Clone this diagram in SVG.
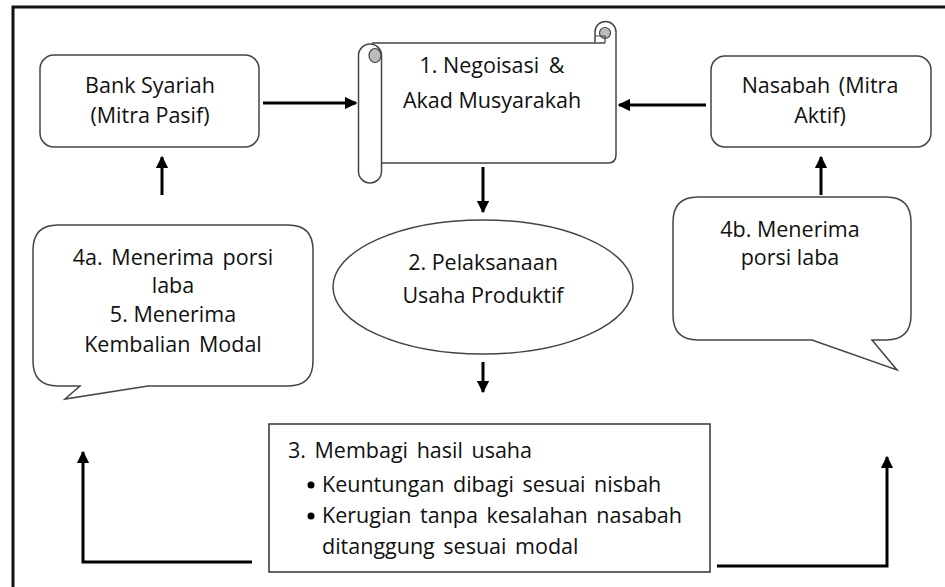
<svg xmlns="http://www.w3.org/2000/svg" width="945" height="587" viewBox="0 0 945 587">
<style>
  .t{font-family:"Open Sans",Lato,"DejaVu Sans",sans-serif;font-size:21.5px;fill:#111;}
  .c{text-anchor:middle;}
  .w{word-spacing:3px;}
  .shape{fill:#fff;stroke:#444;stroke-width:1.5;}
  .conn{fill:none;stroke:#000;stroke-width:3;}
</style>
<defs>
  <marker id="ah" viewBox="0 0 10 10" refX="9" refY="5" markerWidth="4.2" markerHeight="4.2" orient="auto" markerUnits="strokeWidth">
    <path d="M0,0 L10,5 L0,10 Z" fill="#000"/>
  </marker>
</defs>
<rect x="0" y="0" width="945" height="587" fill="#fff"/>
<rect x="13" y="7" width="950" height="600" fill="none" stroke="#111" stroke-width="3"/>

<g id="bank">
  <rect class="shape" x="40" y="55" width="219" height="92" rx="14"/>
  <text class="t c" x="150" y="93">Bank Syariah</text>
  <text class="t c" x="150" y="123">(Mitra Pasif)</text>
</g>

<g id="nasabah">
  <rect class="shape" x="711" y="56" width="220" height="91" rx="14"/>
  <text class="t c w" x="820" y="93">Nasabah (Mitra</text>
  <text class="t c" x="820" y="123">Aktif)</text>
</g>

<g id="akad">
  <path fill="#fff" stroke="none" d="M370 43 H605 V32 A10.5 10.5 0 0 1 616 32 V155 Q616 163 608 163 H382 V60 H370 Z"/>
  <path fill="none" stroke="#444" stroke-width="1.5" d="M372 43 H605 M616 32 V155 Q616 163 608 163 H382"/>
  <path fill="#fff" stroke="#444" stroke-width="1.5" d="M595 43 V32 A10.5 10.5 0 0 1 616 32"/>
  <circle cx="605" cy="33" r="5.5" fill="#bbb" stroke="#444" stroke-width="1.2"/>
  <path fill="none" stroke="#444" stroke-width="1.2" d="M595 36 H605 V43"/>
  <path class="shape" d="M358.5 55.5 A11.5 11.5 0 0 1 381.5 55.5 V171.5 A11.5 11.5 0 0 1 358.5 171.5 Z"/>
  <ellipse cx="375" cy="55.5" rx="6" ry="7" fill="#bbb" stroke="#444" stroke-width="1.2"/>
  <text class="t c" x="492" y="73">1. Negoisasi <tspan dx="4">&amp;</tspan></text>
  <text class="t c" x="492" y="108">Akad Musyarakah</text>
</g>

<g id="pelaksanaan">
  <ellipse class="shape" cx="483" cy="287" rx="150" ry="67"/>
  <text class="t c" x="483" y="270">2. Pelaksanaan</text>
  <text class="t c" x="483" y="303">Usaha Produktif</text>
</g>

<g id="membagi">
  <rect x="269" y="424" width="441" height="148" fill="#fff" stroke="#333" stroke-width="1.5"/>
  <text class="t w" x="288" y="458">3. Membagi hasil usaha</text>
  <circle cx="311" cy="485" r="3.5" fill="#000"/>
  <text class="t w" x="322" y="492">Keuntungan dibagi sesuai nisbah</text>
  <circle cx="311" cy="516" r="3.5" fill="#000"/>
  <text class="t w" x="322" y="523">Kerugian tanpa kesalahan nasabah</text>
  <text class="t w" x="322" y="554">ditanggung sesuai modal</text>
</g>

<g id="bubble-left">
  <path class="shape" d="M58 225 H288 Q313 225 313 250 V361 Q313 386 288 386 H148 L65 399 L80 386 H58 Q33 386 33 361 V250 Q33 225 58 225 Z"/>
  <text class="t c w" x="173" y="265">4a. Menerima porsi</text>
  <text class="t c" x="173" y="293">laba</text>
  <text class="t c" x="173" y="322">5. Menerima</text>
  <text class="t c w" x="173" y="352">Kembalian Modal</text>
</g>

<g id="bubble-right">
  <path class="shape" d="M698 197 H886 Q911 197 911 222 V315 Q911 340 886 340 H872 L897 370 L812 340 H698 Q673 340 673 315 V222 Q673 197 698 197 Z"/>
  <text class="t c" x="790" y="237">4b. Menerima</text>
  <text class="t c" x="790" y="265">porsi laba</text>
</g>

<g id="connectors">
  <path class="conn" d="M263 103 H356" marker-end="url(#ah)"/>
  <path class="conn" d="M706 105 H619" marker-end="url(#ah)"/>
  <path class="conn" d="M162 195 V157" marker-end="url(#ah)"/>
  <path class="conn" d="M821 195 V157" marker-end="url(#ah)"/>
  <path class="conn" d="M483 167 V212" marker-end="url(#ah)"/>
  <path class="conn" d="M483 362 V392" marker-end="url(#ah)"/>
  <path class="conn" d="M252 562 H83 V452" marker-end="url(#ah)"/>
  <path class="conn" d="M717 566 H887 V457" marker-end="url(#ah)"/>
</g>
</svg>
